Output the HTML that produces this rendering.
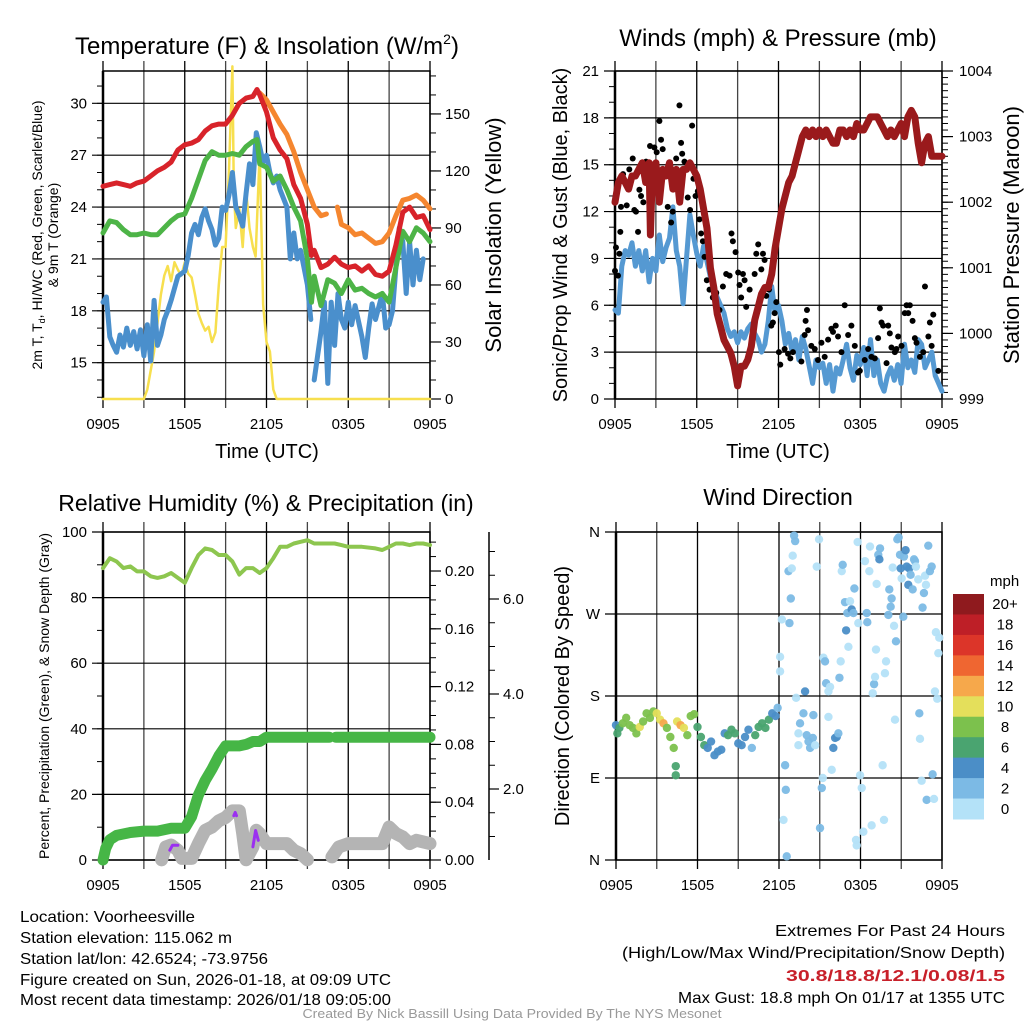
<!DOCTYPE html>
<html><head><meta charset="utf-8"><style>
html,body{margin:0;padding:0;background:#fff;}
svg{display:block;font-family:"Liberation Sans",sans-serif;}
</style></head><body>
<svg id="chart" width="1024" height="1024" viewBox="0 0 1024 1024" xmlns="http://www.w3.org/2000/svg">
<rect x="0" y="0" width="1024" height="1024" fill="#fff"/>
<text x="267" y="54" font-size="24" text-anchor="middle">Temperature (F) &amp; Insolation (W/m<tspan font-size="14" dy="-10">2</tspan><tspan dy="10">)</tspan></text>
<text x="778" y="46" font-size="24" text-anchor="middle">Winds (mph) &amp; Pressure (mb)</text>
<text x="266" y="511" font-size="23" text-anchor="middle">Relative Humidity (%) &amp; Precipitation (in)</text>
<text x="778" y="505" font-size="23" text-anchor="middle">Wind Direction</text>
<text transform="translate(42,235) rotate(-90)" font-size="14" text-anchor="middle">2m T, T<tspan font-size="9" dy="3">d</tspan><tspan dy="-3">, HI/WC (Red, Green, Scarlet/Blue)</tspan></text>
<text transform="translate(58,235) rotate(-90)" font-size="14" text-anchor="middle">&amp; 9m T (Orange)</text>
<text transform="translate(501,235) rotate(-90)" font-size="22" text-anchor="middle">Solar Insolation (Yellow)</text>
<text x="267" y="458" font-size="20" text-anchor="middle">Time (UTC)</text>
<text transform="translate(567,235) rotate(-90)" font-size="20" text-anchor="middle">Sonic/Prop Wind &amp; Gust (Blue, Black)</text>
<text transform="translate(1019,235) rotate(-90)" font-size="22" text-anchor="middle">Station Pressure (Maroon)</text>
<text x="778" y="458" font-size="20" text-anchor="middle">Time (UTC)</text>
<text transform="translate(49,696) rotate(-90)" font-size="14" text-anchor="middle">Percent, Precipitation (Green), &amp; Snow Depth (Gray)</text>
<text transform="translate(569,696) rotate(-90)" font-size="20" text-anchor="middle">Direction (Colored By Speed)</text>
<g font-size="16">
<text x="20" y="922" textLength="175" lengthAdjust="spacingAndGlyphs">Location: Voorheesville</text>
<text x="20" y="943" textLength="212" lengthAdjust="spacingAndGlyphs">Station elevation: 115.062 m</text>
<text x="20" y="964" textLength="248" lengthAdjust="spacingAndGlyphs">Station lat/lon: 42.6524; -73.9756</text>
<text x="20" y="985" textLength="371" lengthAdjust="spacingAndGlyphs">Figure created on Sun, 2026-01-18, at 09:09 UTC</text>
<text x="20" y="1005" textLength="371" lengthAdjust="spacingAndGlyphs">Most recent data timestamp: 2026/01/18 09:05:00</text>
<text x="1005" y="936" text-anchor="end" textLength="230" lengthAdjust="spacingAndGlyphs">Extremes For Past 24 Hours</text>
<text x="1005" y="958" text-anchor="end" textLength="383" lengthAdjust="spacingAndGlyphs">(High/Low/Max Wind/Precipitation/Snow Depth)</text>
<text x="1005" y="981" text-anchor="end" fill="#c8202a" font-weight="bold" textLength="219" lengthAdjust="spacingAndGlyphs">30.8/18.8/12.1/0.08/1.5</text>
<text x="1005" y="1003" text-anchor="end" textLength="327" lengthAdjust="spacingAndGlyphs">Max Gust: 18.8 mph On 01/17 at 1355 UTC</text>
<text x="512" y="1018" text-anchor="middle" fill="#999" font-size="13" textLength="419" lengthAdjust="spacingAndGlyphs">Created By Nick Bassill Using Data Provided By The NYS Mesonet</text>
</g>
<g id="layer"></g>
</svg>
<script>
const tempTimes = [0,0.5,1,1.5,2,2.5,3,3.5,4,4.5,5,5.5,6,6.5,7,7.5,8,8.5,9,9.5,10,10.5,11,11.3,11.5,12,12.5,13,13.5,14,14.5,15,15.3,15.5,16,16.5,17,17.5,18,18.5,19,19.5,20,20.5,21,21.5,22,22.5,23,23.5,24];
const tempRed = [25.2,25.3,25.4,25.3,25.2,25.4,25.5,25.8,26.1,26.3,26.6,27.3,27.6,27.7,27.9,28.4,28.7,28.8,28.8,29.3,30.0,30.3,30.4,30.8,30.5,29.5,28.0,27.3,26.8,25.3,24.5,23.0,21.2,21.5,20.5,20.7,21.1,20.7,20.5,20.6,20.3,20.6,20.1,20.0,20.3,21.8,23.7,24.0,23.4,23.5,22.7];
const orangeTimes = [11.5,12,12.5,13,13.5,14,14.5,15,15.5,16,16.4,null,17.2,17.5,18,18.5,19,19.5,20,20.5,21,21.5,22,22.5,23,23.5,24];
const tempOrange = [30.6,30.2,29.5,28.8,28.2,27.2,26.0,25.0,24.0,23.5,23.6,null,24.0,23.0,22.8,22.4,22.5,22.2,21.9,22.0,22.5,23.5,24.4,24.5,24.7,24.4,23.9];
const tempGreen = [22.5,23.2,23.1,22.7,22.4,22.4,22.5,22.4,22.4,22.8,23.2,23.5,23.6,24.5,25.6,26.7,27.2,27.0,27.0,27.1,27.0,27.5,27.8,27.9,26.5,26.3,25.5,25.8,25.0,24.0,23.2,21.0,18.5,20.0,18.3,19.8,19.6,19.0,19.8,19.2,19.3,19.0,18.8,19.0,18.5,20.5,22.6,22.0,22.8,22.5,22.0];
const blueTimes = [0,0.25,0.5,0.75,1,1.25,1.5,1.75,2,2.25,2.5,2.75,3,3.25,3.5,3.75,4,4.25,4.5,4.75,5,5.5,6,6.25,6.5,6.75,7,7.25,7.5,7.75,8,8.25,8.5,8.75,9,9.25,9.5,9.75,10,10.25,10.5,10.75,11,11.25,11.5,11.75,12,12.25,12.5,12.75,13,13.5,13.75,14,14.25,14.5,15,15.25,null,15.5,16,16.25,16.5,16.75,17,17.25,17.5,17.75,18,18.25,18.5,19,19.25,19.5,19.75,20,20.5,20.75,21,21.25,21.5,21.75,22,22.25,22.5,22.75,23,23.25,23.5];
const tempBlue = [18.5,18.8,16.5,16.0,15.6,16.6,15.9,17.0,16.0,16.8,15.8,16.9,15.4,17.2,15.1,18.6,16.0,16.6,17.5,18.0,18.6,20.0,20.3,21.2,22.5,23.0,22.4,23.4,23.9,23.2,22.7,21.8,22.2,24.0,23.8,24.7,26.0,24.0,23.5,22.9,24.8,26.5,25.3,28.3,27.5,26.6,27.0,26.0,25.4,25.8,25.0,24.0,21.0,22.5,21.0,21.5,19.5,17.5,null,14.0,16.8,18.5,13.8,18.5,16.0,19.0,17.5,17.0,18.5,17.2,18.3,16.5,15.3,17.0,18.4,17.5,19.0,17.0,17.2,18.0,20.5,22.8,22.0,19.0,22.0,19.5,21.5,19.8,21.0];
const insolTimes = [0,3,3.25,3.5,3.75,4,4.25,4.5,4.75,5,5.25,5.5,5.75,6,6.25,6.5,6.75,7,7.25,7.5,7.75,8,8.25,8.5,8.75,9,9.25,9.5,9.6,9.75,10,10.25,10.5,10.75,11,11.2,11.5,11.75,12,12.25,12.5,12.75,24];
const insolValues = [0,0,5,15,25,40,55,65,70,62,72,68,65,72,66,64,55,45,40,36,38,30,35,60,80,80,120,175,110,90,100,80,110,90,80,75,130,50,30,25,5,0,0];
const tempTicks = [15,18,21,24,27,30];
const insolTicks = [0,30,60,90,120,150];
const timeLabels = ['0905','1505','2105','0305','0905'];

const windTimes = [0,0.25,0.5,0.75,1,1.25,1.5,1.75,2,2.25,2.5,2.75,3,3.25,3.5,3.75,4,4.25,4.5,4.75,5,5.25,5.5,5.75,6,6.25,6.5,6.75,7,7.5,8,8.25,8.5,8.75,9,9.25,9.5,9.75,10,10.25,10.5,10.75,11,11.25,11.5,11.75,12,12.25,12.5,12.75,13,13.25,13.5,13.75,14,14.5,14.75,15,15.25,15.5,15.75,16,16.25,16.5,16.75,17,17.25,17.5,17.75,18,18.25,18.5,18.75,19,19.25,19.5,19.75,20,20.25,20.5,20.75,21,21.25,21.5,21.75,22,22.25,22.5,22.75,23,23.25,23.5,23.75,24];
const windSpeed = [5.7,5.5,8.5,9.5,9.2,10.0,8.5,9.5,8.2,9.5,7.5,9.0,8.2,10.5,8.8,9.7,10.3,12.3,9.5,8.5,6.1,9.0,11.8,10.5,9.3,8.5,9.8,8.8,7.8,6.5,5.5,4.5,4.0,4.3,3.6,4.3,3.9,4.5,4.8,4.2,3.8,3.0,3.5,5.0,7.2,5.5,6.0,5.0,3.5,4.2,3.0,3.8,2.5,4.0,3.2,1.0,2.5,2.0,2.3,1.0,2.2,0.5,2.0,1.6,2.5,3.5,2.0,1.2,2.8,2.2,3.3,1.5,3.8,1.5,2.5,1.0,0.5,1.5,2.0,1.2,2.2,1.0,3.5,2.0,2.5,1.7,3.8,3.5,2.0,2.5,3.0,1.5,1.0,0.5];
const gustTimes = [0.0,0.07,0.22,0.32,0.44,0.39,0.59,0.86,1.05,1.30,1.42,1.54,1.69,1.79,1.91,2.08,2.28,2.57,2.89,3.06,3.26,3.38,3.50,3.75,3.87,4.12,4.24,4.49,4.73,4.85,4.93,5.10,5.22,5.34,5.51,5.66,5.76,5.91,6.08,6.20,6.32,6.45,6.57,6.74,6.94,7.18,7.43,7.67,7.92,8.16,8.41,8.55,8.65,8.85,9.04,9.14,9.26,9.39,9.51,9.63,9.88,10.25,10.37,10.51,10.74,10.86,10.98,11.10,11.30,11.47,11.59,11.72,11.84,12.03,12.13,12.45,12.70,12.87,13.06,13.68,13.92,13.99,14.09,14.17,14.41,14.66,14.90,15.15,15.39,15.64,15.88,16.00,16.20,16.37,16.62,16.86,17.11,17.35,17.60,17.84,17.97,18.33,18.58,18.82,19.07,19.31,19.44,19.56,19.68,19.93,20.05,20.17,20.29,20.54,20.66,20.78,21.03,21.27,21.40,21.52,21.64,21.84,22.01,22.13,22.38,22.62,22.75,23.0,23.11,23.24,23.36,23.73];
const gustSpeed = [8.2,9.7,7.9,9.3,12.3,10.7,14.4,12.4,14.7,15.4,12.1,12.0,10.7,13.4,13.0,12.6,15.2,16.2,16.1,15.8,17.8,16.6,16.0,14.7,12.3,11.3,12.0,15.4,18.8,16.4,15.7,15.2,14.7,12.9,12.1,17.5,14.1,13.0,13.3,11.5,10.6,10.1,9.1,7.6,7.0,6.5,6.8,5.7,7.2,8.0,7.9,10.6,10.1,9.4,8.1,7.3,6.5,8.0,7.6,5.9,7.0,8.0,9.3,9.9,8.3,9.3,8.9,6.6,7.0,4.7,4.9,5.5,6.2,3.0,2.2,3.2,2.9,2.6,3.0,2.4,4.1,5.0,5.7,4.4,3.4,3.2,2.5,3.6,2.7,3.8,4.5,4.3,4.7,4.0,3.0,6.0,4.1,4.7,3.4,1.7,1.8,2.5,3.2,2.7,2.6,3.9,5.8,4.9,4.7,2.3,4.7,4.2,3.3,3.0,3.2,4.0,3.4,5.5,6.0,5.5,6.0,5.0,3.9,3.6,2.7,3.0,7.2,4.0,4.9,3.4,5.4,1.8];
const presTimes = [0,0.25,0.5,0.75,1,1.25,1.5,1.75,2,2.25,2.5,2.6,2.75,3,3.25,3.5,3.75,4,4.25,4.5,4.75,5,5.25,5.5,6,6.25,6.5,6.75,7,7.25,7.5,7.75,8,8.25,8.5,8.75,9,9.25,9.5,9.75,10,10.25,10.5,10.75,11,11.25,11.5,11.75,12,12.25,12.5,12.75,13,13.25,13.5,13.75,14,14.25,14.5,14.75,15,15.25,15.5,15.75,16,16.25,16.5,16.75,17,17.25,17.5,17.75,18,18.25,18.5,18.75,19,19.25,19.5,19.75,20,20.25,20.5,20.75,21,21.25,21.5,21.75,22,22.25,22.5,22.75,23,23.25,23.5,23.75,24];
const presValues = [1002.0,1002.3,1002.4,1002.3,1002.2,1002.4,1002.4,1002.5,1002.6,1002.3,1002.6,1001.5,1002.5,1002.6,1002.0,1002.5,1002.4,1002.6,1002.2,1002.5,1002.0,1002.5,1002.5,1002.6,1002.4,1002.2,1001.9,1001.6,1001.0,1000.7,1000.3,1000.1,999.9,999.8,999.7,999.5,999.2,999.5,999.5,999.6,999.8,1000.2,1000.4,1000.6,1000.7,1000.7,1000.9,1001.3,1001.6,1001.9,1002.1,1002.3,1002.4,1002.6,1002.8,1003.0,1003.1,1003.0,1003.1,1003.0,1003.1,1003.0,1003.1,1003.0,1002.9,1002.9,1003.1,1003.1,1003.0,1003.1,1003.0,1003.2,1003.1,1003.1,1003.2,1003.3,1003.3,1003.3,1003.2,1003.1,1003.0,1003.1,1003.0,1003.1,1003.2,1003.0,1003.3,1003.4,1003.3,1002.9,1002.6,1002.9,1003.0,1002.7,1002.7,1002.7,1002.7];
const windTicks = [0,3,6,9,12,15,18,21];
const presTicks = [999,1000,1001,1002,1003,1004];

const rhTimes = [0,0.5,1,1.5,2,2.5,3,3.5,4,4.5,5,5.5,6,6.5,7,7.5,8,8.5,9,9.5,10,10.5,11,11.5,12,12.5,13,13.5,14,14.5,15,15.5,16,17,17.5,18,19,20,20.5,21,21.5,22,22.5,23,23.5,24];
const rhValues = [89,92,91,89,89.5,88,88,86.5,86,86.5,87.5,86,84.5,89,93,95,94.5,93,93,91,87,89,89,87.5,89,92,95.5,95.5,96.5,97,97.5,96.5,96.5,96.5,96,95.5,95.5,95,94.5,95.5,96.5,96.5,96,96.5,96.5,96];
const precipTimes = [0,0.2,0.5,1,2,3,4,5,6,6.5,7,7.5,8,8.5,9,10,10.5,11,11.5,12,16.6,null,17.1,24];
const precipValues = [0,0.008,0.014,0.017,0.019,0.020,0.020,0.022,0.022,0.030,0.045,0.055,0.063,0.072,0.079,0.079,0.080,0.082,0.082,0.085,0.085,null,0.085,0.085];
const snowTimes = [4.3,4.6,5,5.5,5.8,6.5,7,7.5,8,8.5,9,9.5,10,10.25,10.5,11,11.25,11.5,12,13,13.5,14,14.5,15,null,16.8,17.3,18,19,20,20.5,21,21.5,22,22.5,23,24];
const snowDepth = [0.51,0.78,0.82,0.71,0.54,0.54,0.85,1.13,1.20,1.33,1.40,1.54,1.54,1.06,0.51,0.78,1.13,1.06,0.85,0.85,0.85,0.71,0.64,0.51,null,0.57,0.78,0.85,0.85,0.85,0.85,1.20,1.06,0.99,0.85,0.92,0.85];
const snowfallTimes = [4.9,5.1,5.5,null,9.6,9.7,9.8,null,11.0,11.2,11.4];
const snowfallPct = [3,4.5,4.5,null,13.5,14.5,13.5,null,4,9,6];
const pctTicks = [0,20,40,60,80,100];
const precipTicks = [0.00,0.04,0.08,0.12,0.16,0.20];
const snowTicks = [2.0,4.0,6.0];

const dirTimes = [0,0.1,0.25,0.5,0.75,1,1.25,1.5,1.75,2,2.25,2.5,2.75,3,3.25,3.5,3.75,4,4.25,4.4,4.4,4.5,4.75,5,5.25,5.5,5.75,6,6.25,6.5,6.75,7,7.25,7.5,7.75,8,8.25,8.5,8.75,9,9.25,9.5,9.75,10,10.25,10.5,10.75,11,11.25,11.5,11.75,11.9,
12.21,12.08,12.08,12.33,12.45,12.50,12.57,12.70,12.87,12.77,12.94,13.01,13.11,13.19,13.26,13.43,13.55,13.43,13.80,13.92,14.04,14.17,14.29,14.49,14.53,14.66,14.78,14.95,15.02,15.15,15.22,15.27,15.39,15.47,15.64,15.76,15.64,15.88,16.00,16.13,16.25,16.37,16.45,16.54,16.62,16.69,16.86,16.94,17.03,17.11,17.23,17.35,17.48,17.55,17.67,17.72,17.79,17.84,17.97,18.09,18.21,18.33,18.46,18.50,18.65,18.70,18.82,18.90,19.00,19.07,19.14,19.19,19.31,19.39,19.44,19.63,19.73,19.80,19.88,20.05,20.12,20.22,20.29,20.37,20.47,20.54,20.61,20.71,20.81,20.91,20.96,21.03,21.15,21.20,21.32,21.40,21.52,21.59,21.69,21.84,21.94,22.01,22.08,22.25,22.33,22.38,22.50,22.57,22.67,22.75,22.82,22.87,22.99,23.11,23.24,23.31,23.41,23.48,23.55,23.65,23.73,23.80];
const dirDegrees = [148,139,145,150,156,148,145,139,146,152,161,156,163,161,154,150,145,135,123,103,93,152,148,145,137,158,160,146,135,126,123,130,115,119,121,139,137,143,139,128,126,135,143,123,137,146,150,145,154,161,158,167,
264,223,207,44,104,77,4,317,287,260,320,334,356,350,178,139,150,126,161,185,137,130,123,134,159,126,322,352,35,79,90,222,218,194,185,190,157,99,123,134,135,139,200,218,317,324,283,252,271,234,284,275,271,298,22,16,349,260,93,79,31,328,271,261,317,344,38,183,193,201,231,303,335,330,342,104,44,205,218,269,297,278,287,321,257,154,240,352,354,335,320,309,267,333,340,322,302,320,313,297,330,328,322,308,161,133,87,277,293,312,302,66,345,317,322,94,67,185,250,177,227,244];
const dirSpeed = [5,7,7,9,9,9,9,9,11,9,9,9,9,11,11,13,9,9,9,7,7,11,13,11,9,9,9,7,7,7,5,5,5,5,5,5,7,7,7,5,5,5,5,3,7,7,7,7,7,5,5,3,
1,1,1,1,3,3,3,3,3,3,1,1,3,3,1,1,3,1,3,5,3,3,3,3,3,1,1,1,3,3,1,1,3,3,1,1,1,1,5,5,5,3,3,1,1,3,3,5,3,1,1,5,3,3,1,1,1,1,1,1,1,1,3,3,1,1,1,1,3,1,1,1,3,5,3,1,1,1,1,3,3,3,3,1,1,1,3,3,3,3,5,1,3,3,5,5,5,5,3,3,3,3,1,1,3,1,1,3,3,1,1,3,3,3,3,3,1,1,1,1,1,1];
const speedBins = ['0','2','4','6','8','10','12','14','16','18','20+'];
const binColors = ['#b4e2f8','#7cbae5','#4b8ec7','#4aa470','#7cc14d','#e4df5b','#f6a84b','#ef6631','#dc3529','#be1f27','#8f1a1e'];
const dirTicks = [0,90,180,270,360];
const dirLabels = ['N','E','S','W','N'];

const NS = 'http://www.w3.org/2000/svg';
const layer = document.getElementById('layer');
function mk(tag, attrs, parent) {
  const e = document.createElementNS(NS, tag);
  for (const k in attrs) e.setAttribute(k, attrs[k]);
  (parent || layer).appendChild(e);
  return e;
}
function scale(d0, d1, r0, r1) { return v => r0 + (v - d0) / (d1 - d0) * (r1 - r0); }
function pathD(xs, ys, fx, fy) {
  let d = '', pen = false;
  for (let i = 0; i < xs.length; i++) {
    if (xs[i] === null || ys[i] === null) { pen = false; continue; }
    d += (pen ? 'L' : 'M') + fx(xs[i]).toFixed(1) + ',' + fy(ys[i]).toFixed(1);
    pen = true;
  }
  return d;
}
function line(name, xs, ys, fx, fy, color, w, g) {
  const p = mk('path', {d: pathD(xs, ys, fx, fy), fill: 'none', stroke: color, 'stroke-width': w, 'stroke-linejoin': 'round', 'stroke-linecap': 'round'}, g);
  
  
  return p;
}
function frame(name, x0, x1, y0, y1, fx, yTicks, fy, yLabels, minorStep, yMin, yMax) {
  const g = mk('g', {});
  
  
  for (let h = 0; h <= 24; h += 3) {
    const x = fx(h);
    const l = mk('line', {x1: x, x2: x, y1: y0 - 10, y2: y1 + 9, stroke: (h % 6 === 0) ? '#000' : '#444', 'stroke-width': 1.3}, g);
    
    
  }
  yTicks.forEach((v, i) => {
    const y = fy(v);
    const l = mk('line', {x1: x0 - 11, x2: x1, y1: y, y2: y, stroke: '#000', 'stroke-width': 1.2}, g);
    
    
    const t = mk('text', {x: x0 - 16, y: y + 5, 'font-size': 15, 'text-anchor': 'end'}, g);
    t.textContent = yLabels[i];
    
    
  });
  if (minorStep) {
    for (let v = yMin; v <= yMax + 1e-9; v += minorStep) {
      const y = fy(v);
      if (y < y0 - 0.5 || y > y1 + 0.5) continue;
      mk('line', {x1: x0 - 6, x2: x0, y1: y, y2: y, stroke: '#000', 'stroke-width': 1}, g);
    }
  }
  mk('rect', {x: x0, y: y0, width: x1 - x0, height: y1 - y0, fill: 'none', stroke: '#000', 'stroke-width': 1.5}, g);
  mk('line', {x1: x0, x2: x0, y1: y0, y2: y1, stroke: '#000', 'stroke-width': 2.5}, g);
  timeLabels.forEach((lab, i) => {
    const t = mk('text', {x: fx(i * 6), y: y1 + 30, 'font-size': 15, 'text-anchor': 'middle'}, g);
    t.textContent = lab;
    
    
  });
}
function rightAxis(name, x, y0, y1, fy, ticks, labels, minorStep, vMin, vMax, lx) {
  const g = mk('g', {});
  
  
  for (let v = vMin; v <= vMax + 1e-9; v += minorStep) {
    const y = fy(v);
    if (y < y0 - 0.5 || y > y1 + 0.5) continue;
    mk('line', {x1: x, x2: x + 6, y1: y, y2: y, stroke: '#000', 'stroke-width': 1}, g);
  }
  ticks.forEach((v, i) => {
    const y = fy(v);
    mk('line', {x1: x, x2: x + 11, y1: y, y2: y, stroke: '#000', 'stroke-width': 1.2}, g);
    const t = mk('text', {x: lx || x + 15, y: y + 5, 'font-size': 15}, g);
    t.textContent = labels[i];
    
    
  });
}

(function(){
  const x0 = 103, x1 = 430, y0 = 71, y1 = 399;
  const fx = scale(0, 24, x0, x1);
  const fy = scale(12.9, 31.87, y1, y0);
  const fi = scale(0, 172.6, y1, y0);
  frame('temperature-panel', x0, x1, y0, y1, fx, tempTicks, fy, tempTicks.map(String), 1, 13, 31);
  rightAxis('insolation-axis', x1, y0, y1, fi, insolTicks, insolTicks.map(String), 10, 0, 170);
  const g = mk('g', {});
  
  
  line('insolation-line', insolTimes, insolValues, fx, fi, '#f7df4e', 2.5, g);
  line('heat-index-line', blueTimes, tempBlue, fx, fy, '#4a8fcc', 5, g);
  line('dewpoint-line', tempTimes, tempGreen, fx, fy, '#4db447', 5, g);
  line('temp-9m-line', orangeTimes, tempOrange, fx, fy, '#f5862f', 5, g);
  line('temp-2m-line', tempTimes, tempRed, fx, fy, '#d8232a', 5, g);
})();

(function(){
  const x0 = 615, x1 = 942, y0 = 71, y1 = 399;
  const fx = scale(0, 24, x0, x1);
  const fy = scale(0, 21, y1, y0);
  const fp = scale(999, 1004, y1, y0);
  frame('wind-panel', x0, x1, y0, y1, fx, windTicks, fy, windTicks.map(String), 1, 0, 21);
  rightAxis('pressure-axis', x1, y0, y1, fp, presTicks, presTicks.map(String), 0.1, 999, 1004, x1 + 17);
  const g = mk('g', {});
  
  
  line('wind-speed-line', windTimes, windSpeed, fx, fy, '#5599d2', 5, g);
  gustTimes.forEach((t, i) => {
    const c = mk('circle', {cx: fx(t), cy: fy(gustSpeed[i]), r: 3, fill: '#000'}, g);
    
    
  });
  line('pressure-line', presTimes, presValues, fx, fp, '#9a1a1c', 7, g);
})();

(function(){
  const x0 = 103, x1 = 430, y0 = 532, y1 = 860;
  const fx = scale(0, 24, x0, x1);
  const fy = scale(0, 100, y1, y0);
  const fr = scale(0, 0.227, y1, y0);
  const fs = scale(0, 1, 884, 836.5);
  frame('humidity-panel', x0, x1, y0, y1, fx, pctTicks, fy, pctTicks.map(String), 10, 0, 100);
  rightAxis('precip-axis', x1, y0, y1, fr, precipTicks, precipTicks.map(v => v.toFixed(2)), 0.01, 0, 0.22);
  const sg = mk('g', {});
  
  
  mk('line', {x1: 489, x2: 489, y1: y0, y2: y1, stroke: '#000', 'stroke-width': 1.5}, sg);
  for (let v = 0.5; v <= 7.5; v += 0.5) {
    const y = fs(v); if (y > y1 || y < y0) continue;
    mk('line', {x1: 489, x2: 495, y1: y, y2: y, stroke: '#000', 'stroke-width': 1}, sg);
  }
  snowTicks.forEach(v => {
    mk('line', {x1: 489, x2: 499, y1: fs(v), y2: fs(v), stroke: '#000', 'stroke-width': 1.2}, sg);
    const t = mk('text', {x: 503, y: fs(v) + 5, 'font-size': 15}, sg);
    t.textContent = v.toFixed(1);
    
    
  });
  const g = mk('g', {});
  
  
  line('snow-depth-line', snowTimes, snowDepth, fx, fs, '#b4b4b4', 13, g);
  line('precip-line', precipTimes, precipValues, fx, fr, '#46b646', 11, g);
  line('snowfall-line', snowfallTimes, snowfallPct, fx, fy, '#9b2ff0', 3, g);
  line('rh-line', rhTimes, rhValues, fx, fy, '#8dc64f', 4, g);
})();

(function(){
  const x0 = 616, x1 = 942, y0 = 532, y1 = 860;
  const fx = scale(0, 24, x0, x1);
  const fy = scale(0, 360, y1, y0);
  frame('direction-panel', x0, x1, y0, y1, fx, dirTicks, fy, dirLabels, 0, 0, 0);
  const g = mk('g', {});
  
  
  dirTimes.forEach((t, i) => {
    const bin = Math.min(10, Math.floor(dirSpeed[i] / 2));
    const c = mk('circle', {cx: fx(t), cy: fy(dirDegrees[i]), r: 4.2, fill: binColors[bin], 'fill-opacity': 0.95}, g);
    
    
  });
  const lg = mk('g', {});
  
  
  const lt = mk('text', {x: 990, y: 586, 'font-size': 15}, lg);
  lt.textContent = 'mph';
  
  
  const bx = 953, bw = 31, by = 594, bh = 225 / 11;
  for (let k = 10; k >= 0; k--) {
    const idx = 10 - k;
    const r = mk('rect', {x: bx, y: by + idx * bh, width: bw, height: bh + 0.5, fill: binColors[k]}, lg);
    
    
    const t = mk('text', {x: 1005, y: by + idx * bh + bh / 2 + 5, 'font-size': 15, 'text-anchor': 'middle'}, lg);
    t.textContent = speedBins[k];
    
    
  }
})();
</script>
</body></html>
